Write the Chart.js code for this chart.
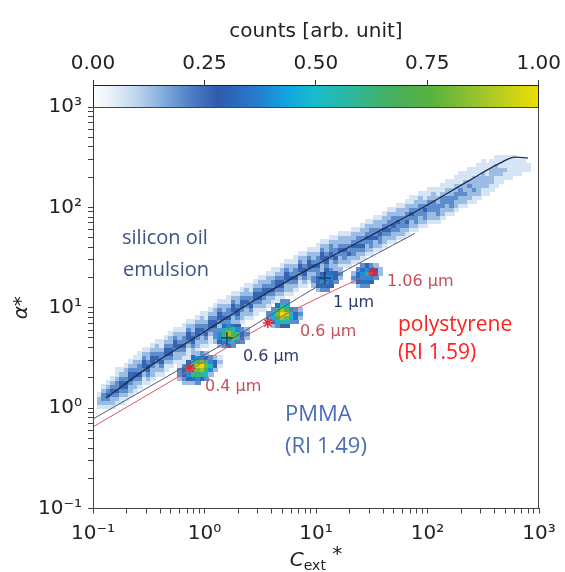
<!DOCTYPE html>
<html><head><meta charset="utf-8">
<script src="https://cdn.jsdelivr.net/npm/chart.js@4.4.1/dist/chart.umd.min.js"></script>
<style>
html,body{margin:0;padding:0;background:#fff;overflow:hidden}
#wrap{position:relative;width:565px;height:572px}
#main,#cbar{position:absolute;left:0;top:0}
</style></head><body>
<div id="wrap">
<canvas id="main" width="565" height="572"></canvas>
<canvas id="cbar" width="565" height="107"></canvas>
</div>
<script>
// ---------------- data ----------------
const decadeValues = [0.1, 1, 10, 100, 1000];
const decadeLabels = ['10⁻¹', '10⁰', '10¹', '10²', '10³'];
const cbarTicks = [0, 0.25, 0.5, 0.75, 1];

// 2D histogram bins, in log10 units
const binLog0 = -1, binStep = 0.04;
// silicon-oil band: [x bin, first y bin, counts per y bin (hex, /15)]
const bandCols = [
[1,22,"000122100"],[2,23,"001233210"],[3,24,"012343210"],[4,25,"122343210"],[5,26,"123433211"],[6,26,"112344321"],[7,27,"123443221"],[8,28,"122344321"],[9,29,"122343221"],[10,30,"123433211"],
[11,31,"112344321"],[12,31,"123443221"],[13,32,"122344321"],[14,33,"122343221"],[15,33,"123433211"],[16,34,"112344321"],[17,35,"123443221"],[18,36,"122344321"],[19,36,"122343221"],[20,37,"123433211"],
[21,38,"112344321"],[22,38,"123443221"],[23,39,"122344321"],[24,40,"122343221"],[25,40,"123433211"],[26,41,"112344321"],[27,42,"123443221"],[28,43,"122344321"],[29,43,"122343221"],[30,44,"123433211"],
[31,45,"112344321"],[32,45,"123443221"],[33,46,"122344321"],[34,47,"122343221"],[35,47,"123433211"],[36,48,"112344321"],[37,49,"123443221"],[38,49,"122344321"],[39,50,"122343221"],[40,51,"123433211"],
[41,51,"112344321"],[42,52,"123443221"],[43,53,"122344321"],[44,53,"122343221"],[45,54,"123433211"],[46,55,"112344321"],[47,55,"123443221"],[48,56,"122344321"],[49,56,"122343221"],[50,57,"123433211"],
[51,58,"112344321"],[52,58,"123443221"],[53,59,"122343321"],[54,59,"123433221"],[55,60,"122343221"],[56,60,"123343221"],[57,60,"122433221"],[58,61,"123343221"],[59,61,"122343321"],[60,62,"123433221"],
[61,63,"122343221"],[62,63,"123343321"],[63,64,"122433221"],[64,64,"123343221"],[65,65,"122343221"],[66,66,"123433221"],[67,66,"122343321"],[68,67,"123343221"],[69,67,"122333221"],[70,68,"123433221"],
[71,69,"122343211"],[72,69,"123333221"],[73,70,"122333221"],[74,70,"123343211"],[75,71,"122333211"],[76,71,"122333221"],[77,71,"123332211"],[78,72,"122333211"],[79,73,"122332211"],[80,73,"123332211"],
[81,74,"122332211"],[82,75,"122332111"],[83,75,"122322211"],[84,76,"122232111"],[85,76,"112322211"],[86,77,"122222111"],[87,78,"112222111"],[88,78,"112221110"],[89,79,"112222110"],[90,80,"111222110"],
[91,80,"011221110"],[92,81,"011211100"],[93,81,"011111100"],[94,81,"001111100"],[95,81,"001111000"],[96,81,"000111000"],[97,81,"000110000"]
];
// bead populations
const blobCols = [
[19,32,"2331"],[20,31,"234431"],[21,31,"2468641"],[22,31,"259BA852"],[23,31,"36ACEB62"],[24,32,"49DFC63"],[25,32,"38BC942"],[26,33,"26863"],[27,34,"2442"],[28,35,"121"],
[27,41,"233"],[28,40,"24663"],[29,40,"369A74"],[30,40,"47BDA63"],[31,40,"38CB852"],[32,41,"69964"],[33,41,"3553"],[34,42,"232"],
[39,46,"233"],[40,45,"25773"],[41,45,"37BCA5"],[42,45,"49DFD83"],[43,45,"48CEB73"],[44,46,"3786"],[45,46,"3553"],[46,47,"232"],
[49,55,"233"],[50,54,"24543"],[51,54,"356542"],[52,54,"346654"],[53,55,"45653"],[54,56,"3442"],[55,57,"232"],
[58,56,"232"],[59,55,"24553"],[60,55,"356653"],[61,55,"356764"],[62,56,"46653"],[63,57,"3542"],[64,58,"22"]
];

// theory curves
const siliconX = [0.131, 0.324, 0.99, 3.15, 10, 30.5, 99, 240, 447, 609, 796];
const siliconY = [1.26, 2.62, 5.73, 12.8, 26.7, 51.8, 105, 187, 276, 317, 310];
const pmmaX = [0.1, 1.6, 12, 77];
const pmmaY = [0.78, 4.6, 18, 55];
const psX = [0.1, 0.74, 3.7, 32.4];
const psY = [0.65, 2.4, 7.0, 22.7];
// bead reference markers
const pmmaMarkX = [1.59, 12];
const pmmaMarkY = [5.0, 19.8];
const psMarkX = [0.74, 3.7, 32.4];
const psMarkY = [2.5, 7.05, 22.7];

// ---------------- styling / helpers ----------------
const annotations = [
  {t:'silicon oil', x:0.182, y:49.4, c:'#3d5285', f:'20px "Open Sans"'},
  {t:'emulsion',    x:0.186, y:23.8, c:'#3d5285', f:'20px "Open Sans"'},
  {t:'PMMA',        x:5.27,  y:0.853, c:'#4a6db5', f:'22px "Open Sans"'},
  {t:'(RI 1.49)',   x:5.27,  y:0.41, c:'#4a6db5', f:'22px "Open Sans"'},
  {t:'polystyrene', x:54.3,  y:6.73, c:'#ff2020', f:'21px "Open Sans"'},
  {t:'(RI 1.59)',   x:54.3,  y:3.54, c:'#ff2020', f:'21px "Open Sans"'},
  {t:'1.06 μm',     x:43.4,  y:18.0, c:'#c8505a', f:'16px "DejaVu Sans"'},
  {t:'1 μm',        x:14.2,  y:11.1, c:'#2d3a6b', f:'16px "DejaVu Sans"'},
  {t:'0.6 μm',      x:7.19,  y:5.73, c:'#c8505a', f:'16px "DejaVu Sans"'},
  {t:'0.6 μm',      x:2.21,  y:3.23, c:'#2d3a6b', f:'16px "DejaVu Sans"'},
  {t:'0.4 μm',      x:1.01,  y:1.62, c:'#c8505a', f:'16px "DejaVu Sans"'}
];

const cmapStops = [[0,'#ffffff'],[0.05,'#e2edf8'],[0.1,'#bcd4ee'],[0.16,'#80aadc'],[0.22,'#4d7ec6'],[0.28,'#2f5cad'],[0.36,'#2878cc'],[0.43,'#12a2e2'],[0.5,'#18bccc'],[0.58,'#2eb89c'],[0.66,'#44b062'],[0.76,'#58b23e'],[0.88,'#a4c62a'],[1,'#eede00']];
function hex2rgb(h){return [parseInt(h.slice(1,3),16),parseInt(h.slice(3,5),16),parseInt(h.slice(5,7),16)];}
function cmap(v){
  v = Math.max(0, Math.min(1, v));
  for (let k = 1; k < cmapStops.length; k++) {
    if (v <= cmapStops[k][0]) {
      const [v0,c0] = cmapStops[k-1], [v1,c1] = cmapStops[k];
      const t = (v - v0) / (v1 - v0), a = hex2rgb(c0), b = hex2rgb(c1);
      return 'rgb(' + a.map((q,n)=>Math.round(q + (b[n]-q)*t)).join(',') + ')';
    }
  }
  return cmapStops[cmapStops.length-1][1];
}

// merge histogram cells
const cellMap = new Map();
for (const [i, j0, s] of bandCols.concat(blobCols)) {
  for (let k = 0; k < s.length; k++) {
    const v = parseInt(s[k], 16) / 15;
    if (v <= 0) continue;
    const key = i + ',' + (j0 + k);
    cellMap.set(key, Math.max(cellMap.get(key) || 0, v));
  }
}
const heatCells = [...cellMap.entries()].map(([key, v]) => { const [i, j] = key.split(',').map(Number); return {i, j, v}; });

function logTickList(){
  const out = [];
  for (let d = 0; d < decadeValues.length - 1; d++) for (let m = 1; m <= 9; m++) out.push({value: decadeValues[d]*m});
  out.push({value: decadeValues[decadeValues.length-1]});
  return out;
}
function decadeLabel(v){
  for (let d = 0; d < decadeValues.length; d++) if (Math.abs(v - decadeValues[d]) < decadeValues[d]*1e-6) return decadeLabels[d];
  return '';
}

const heatPlugin = {
  id: 'heat',
  beforeDatasetsDraw(chart){
    const {ctx, chartArea: a, scales: {x, y}} = chart;
    ctx.save();
    ctx.beginPath(); ctx.rect(a.left, a.top, a.right - a.left, a.bottom - a.top); ctx.clip();
    for (const c of heatCells) {
      const x0 = x.getPixelForValue(Math.pow(10, binLog0 + c.i*binStep));
      const x1 = x.getPixelForValue(Math.pow(10, binLog0 + (c.i+1)*binStep));
      const y0 = y.getPixelForValue(Math.pow(10, binLog0 + c.j*binStep));
      const y1 = y.getPixelForValue(Math.pow(10, binLog0 + (c.j+1)*binStep));
      ctx.fillStyle = cmap(c.v);
      ctx.fillRect(Math.floor(x0), Math.floor(y1), Math.ceil(x1) - Math.floor(x0), Math.ceil(y0) - Math.floor(y1));
    }
    ctx.restore();
  }
};

const decorPlugin = {
  id: 'decor',
  afterDraw(chart){
    const {ctx, chartArea: a, scales: {x, y}} = chart;
    ctx.save();
    ctx.textAlign = 'left'; ctx.textBaseline = 'middle';
    for (const an of annotations) {
      ctx.font = an.f; ctx.fillStyle = an.c;
      ctx.fillText(an.t, x.getPixelForValue(an.x), y.getPixelForValue(an.y));
    }
    ctx.strokeStyle = '#444'; ctx.lineWidth = 1;
    ctx.strokeRect(Math.round(a.left) + 0.5, Math.round(a.top) + 0.5, Math.round(a.right - a.left) - 1, Math.round(a.bottom - a.top) - 1);
    // x-axis title  C_ext *
    const cx = (a.left + a.right) / 2, base = 566;
    ctx.fillStyle = '#222'; ctx.textBaseline = 'alphabetic';
    const fC = 'italic 20px "DejaVu Sans"', fS = '14px "DejaVu Sans"', fStar = '20px "DejaVu Sans"';
    ctx.font = fC; const wC = ctx.measureText('C').width;
    ctx.font = fS; const wS = ctx.measureText('ext').width;
    ctx.font = fStar; const wStar = ctx.measureText(' *').width;
    let px = cx - (wC + wS + wStar) / 2;
    ctx.font = fC; ctx.fillText('C', px, base); px += wC;
    ctx.font = fS; ctx.fillText('ext', px, base + 4); px += wS;
    ctx.font = fStar; ctx.fillText(' *', px, base - 6);
    ctx.restore();
  }
};

const mk = (xs, ys) => xs.map((v, k) => ({x: v, y: ys[k]}));

new Chart(document.getElementById('main'), {
  type: 'scatter',
  data: { datasets: [
    {label:'silicon oil theory', data: mk(siliconX, siliconY), showLine:true, borderColor:'#1d2b4c', borderWidth:1.3, pointRadius:0, cubicInterpolationMode:'monotone'},
    {label:'PMMA theory', data: mk(pmmaX, pmmaY), showLine:true, borderColor:'#4f5a78', borderWidth:1, pointRadius:0, cubicInterpolationMode:'monotone'},
    {label:'polystyrene theory', data: mk(psX, psY), showLine:true, borderColor:'#d9566a', borderWidth:1, pointRadius:0, cubicInterpolationMode:'monotone'},
    {label:'PMMA beads', data: mk(pmmaMarkX, pmmaMarkY), showLine:false, pointStyle:'cross', pointRadius:6, borderColor:'#2a3566', borderWidth:1.5, backgroundColor:'#2a3566'},
    {label:'PS beads', data: mk(psMarkX, psMarkY), showLine:false, pointStyle:'star', pointRadius:5, borderColor:'#e8202a', borderWidth:1.5, backgroundColor:'#e8202a'}
  ]},
  options: {
    responsive: false, animation: false,
    layout: { padding: { top: 107, right: 26, left: 0, bottom: 0 } },
    plugins: { legend: { display: false }, tooltip: { enabled: false } },
    scales: {
      x: {
        type: 'logarithmic', min: 0.1, max: 1000, position: 'bottom',
        afterBuildTicks: s => { s.ticks = logTickList(); },
        afterFit: s => { s.height = 63.5; },
        ticks: { autoSkip: false, maxRotation: 0, minRotation: 0, callback: v => decadeLabel(v), font: { family: 'DejaVu Sans', size: 20 }, color: '#222', padding: 8 },
        grid: { drawOnChartArea: false, drawTicks: true, tickLength: 5, tickColor: '#444' },
        border: { display: true, color: '#444', width: 1 }
      },
      y: {
        type: 'logarithmic', min: 0.1, max: 1000, position: 'left',
        afterBuildTicks: s => { s.ticks = logTickList(); },
        afterFit: s => { s.width = 93; },
        ticks: { autoSkip: false, callback: v => decadeLabel(v), font: { family: 'DejaVu Sans', size: 20 }, color: '#222', padding: 6 },
        grid: { drawOnChartArea: false, drawTicks: true, tickLength: 5, tickColor: '#444' },
        border: { display: true, color: '#444', width: 1 },
        title: { display: true, text: 'α*', font: { family: 'DejaVu Sans', size: 20, style: 'italic' }, color: '#222', padding: { top: 10, bottom: 0 } }
      }
    }
  },
  plugins: [heatPlugin, decorPlugin]
});

const cbarPlugin = {
  id: 'cbarFill',
  afterDraw(chart){
    const {ctx, chartArea: a} = chart;
    const g = ctx.createLinearGradient(a.left, 0, a.right, 0);
    for (const [v, c] of cmapStops) g.addColorStop(v, c);
    ctx.save();
    ctx.fillStyle = g;
    ctx.fillRect(a.left, a.top, a.right - a.left, a.bottom - a.top);
    ctx.strokeStyle = '#222'; ctx.lineWidth = 1;
    ctx.strokeRect(Math.round(a.left) + 0.5, Math.round(a.top) + 0.5, Math.round(a.right - a.left) - 1, Math.round(a.bottom - a.top));
    ctx.restore();
  }
};

new Chart(document.getElementById('cbar'), {
  type: 'scatter',
  data: { datasets: [] },
  options: {
    responsive: false, animation: false,
    layout: { padding: { left: 93, right: 26, top: 0, bottom: 0 } },
    plugins: { legend: { display: false }, tooltip: { enabled: false } },
    scales: {
      x: {
        type: 'linear', position: 'top', min: 0, max: 1,
        afterBuildTicks: s => { s.ticks = cbarTicks.map(v => ({value: v})); },
        afterFit: s => { s.height = 85; },
        ticks: { maxRotation: 0, autoSkip: false, callback: v => Number(v).toFixed(2), font: { family: 'DejaVu Sans', size: 20 }, color: '#222', padding: 4 },
        grid: { drawOnChartArea: false, drawTicks: true, tickLength: 5, tickColor: '#333' },
        border: { display: true, color: '#222', width: 1 },
        title: { display: true, text: 'counts [arb. unit]', font: { family: 'DejaVu Sans', size: 20 }, color: '#222', padding: { top: 20, bottom: 0 } }
      },
      y: { display: false, min: 0, max: 1 }
    }
  },
  plugins: [cbarPlugin]
});
</script>
</body></html>
